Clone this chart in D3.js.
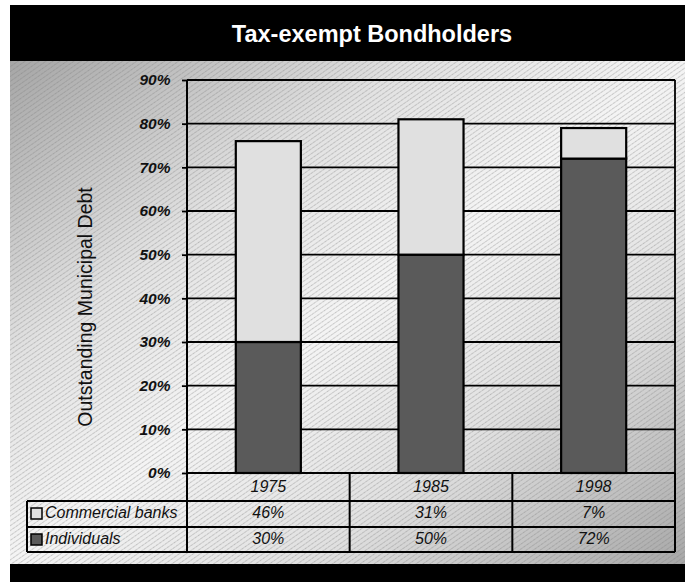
<!DOCTYPE html>
<html>
<head>
<meta charset="utf-8">
<script src="https://cdn.jsdelivr.net/npm/d3@7"></script>
<style>
  html, body { margin: 0; padding: 0; background: #ffffff; }
  svg { display: block; font-family: "Liberation Sans", Arial, sans-serif; }
</style>
</head>
<body>
<svg id="chart" width="685" height="582"></svg>
<script>
// Share of outstanding municipal debt held, by holder type
const years = ["1975", "1985", "1998"];
const commercialBanks = [46, 31, 7];
const individuals = [30, 50, 72];
const yTicks = [0, 10, 20, 30, 40, 50, 60, 70, 80, 90];
const seriesNames = ["Commercial banks", "Individuals"];
const seriesColors = ["#e0e0e0", "#5a5a5a"];

const svg = d3.select("#chart");
const defs = svg.append("defs");

// diagonal grey shading for the panel
const grad = defs.append("linearGradient")
  .attr("id", "panelShade")
  .attr("x1", 0).attr("y1", 0).attr("x2", 1).attr("y2", 1);
grad.append("stop").attr("offset", 0).attr("stop-color", "#a6a6a6");
grad.append("stop").attr("offset", 0.3).attr("stop-color", "#e2e2e2");
grad.append("stop").attr("offset", 0.5).attr("stop-color", "#f4f4f4");
grad.append("stop").attr("offset", 0.72).attr("stop-color", "#e0e0e0");
grad.append("stop").attr("offset", 1).attr("stop-color", "#a8a8a8");

// fine slanted hatch lines
const hatch = defs.append("pattern")
  .attr("id", "hatch")
  .attr("patternUnits", "userSpaceOnUse")
  .attr("width", 4).attr("height", 4)
  .attr("patternTransform", "rotate(55)");
hatch.append("line")
  .attr("x1", 0.5).attr("y1", 0).attr("x2", 0.5).attr("y2", 4)
  .attr("stroke", "#7a7a7a").attr("stroke-width", 0.8)
  .attr("stroke-dasharray", "1.5,0.8")
  .attr("stroke-opacity", 0.5);

// frame
const left = 10, right = 685;
svg.append("rect").attr("x", left).attr("y", 5).attr("width", right - left).attr("height", 56).attr("fill", "#000");
svg.append("rect").attr("x", left).attr("y", 61).attr("width", right - left).attr("height", 503).attr("fill", "url(#panelShade)");
svg.append("rect").attr("x", left).attr("y", 61).attr("width", right - left).attr("height", 503).attr("fill", "url(#hatch)");
svg.append("rect").attr("x", left).attr("y", 564).attr("width", right - left).attr("height", 18).attr("fill", "#000");

svg.append("text")
  .attr("x", 372).attr("y", 41.5)
  .attr("text-anchor", "middle")
  .attr("fill", "#fff")
  .attr("font-size", 23.5).attr("font-weight", "bold")
  .text("Tax-exempt Bondholders");

// scales
const plot = { x0: 187, x1: 675, y0: 80, y1: 473 };
const x = d3.scaleBand().domain(years).range([plot.x0, plot.x1]).paddingInner(0.6).paddingOuter(0.3);
const y = d3.scaleLinear().domain([0, 90]).range([plot.y1, plot.y0]);

// gridlines
svg.append("g").selectAll("line")
  .data(yTicks.filter(d => d > 0))
  .join("line")
  .attr("x1", plot.x0).attr("x2", plot.x1)
  .attr("y1", d => y(d)).attr("y2", d => y(d))
  .attr("stroke", "#000").attr("stroke-width", 1.8);

// right border of plot
svg.append("line")
  .attr("x1", plot.x1).attr("x2", plot.x1)
  .attr("y1", y(90)).attr("y2", y(0))
  .attr("stroke", "#000").attr("stroke-width", 1.8);

// y axis
const yAxis = svg.append("g")
  .attr("transform", `translate(${plot.x0},0)`)
  .call(d3.axisLeft(y).tickValues(yTicks).tickFormat(d => d + "%").tickSize(5).tickPadding(11.5));
yAxis.select(".domain").remove();
yAxis.selectAll(".tick line").attr("stroke", "#000").attr("stroke-width", 1.8);
yAxis.selectAll(".tick text")
  .attr("font-family", "'Liberation Sans', Arial, sans-serif")
  .attr("font-size", 15.5).attr("font-weight", "bold").attr("font-style", "italic")
  .attr("fill", "#111");

svg.append("text")
  .attr("transform", `translate(91.5, 307) rotate(-90)`)
  .attr("text-anchor", "middle")
  .attr("font-size", 19.5)
  .attr("fill", "#111")
  .text("Outstanding Municipal Debt");

// stacked bars
const rows = years.map((yr, i) => ({ year: yr, individuals: individuals[i], commercial: commercialBanks[i] }));
const stack = d3.stack().keys(["individuals", "commercial"])(rows);
const colorByKey = { individuals: seriesColors[1], commercial: seriesColors[0] };

svg.append("g").selectAll("g")
  .data(stack)
  .join("g")
  .attr("fill", d => colorByKey[d.key])
  .selectAll("rect")
  .data(d => d)
  .join("rect")
  .attr("x", d => x(d.data.year))
  .attr("width", x.bandwidth())
  .attr("y", d => y(d[1]))
  .attr("height", d => y(d[0]) - y(d[1]))
  .attr("stroke", "#000").attr("stroke-width", 2.2);

// data table
const tbl = { legendX: 27, yearTop: plot.y1, row1: 501, row2: 527, bottom: 552 };
const inner = years.slice(0, -1).map(yr => x(yr) + x.bandwidth() / 2 + x.step() / 2);
const tLines = svg.append("g").attr("stroke", "#000").attr("stroke-width", 2);
tLines.append("line").attr("x1", plot.x0).attr("x2", plot.x1).attr("y1", tbl.yearTop).attr("y2", tbl.yearTop);
[tbl.row1, tbl.row2, tbl.bottom].forEach(yy =>
  tLines.append("line").attr("x1", tbl.legendX).attr("x2", plot.x1).attr("y1", yy).attr("y2", yy));
tLines.append("line").attr("x1", tbl.legendX).attr("x2", tbl.legendX).attr("y1", tbl.row1).attr("y2", tbl.bottom);
// axis line runs down through the table; right border likewise
tLines.append("line").attr("x1", plot.x0).attr("x2", plot.x0).attr("y1", plot.y0).attr("y2", tbl.bottom);
tLines.append("line").attr("x1", plot.x1).attr("x2", plot.x1).attr("y1", tbl.yearTop).attr("y2", tbl.bottom);
inner.forEach(ex =>
  tLines.append("line").attr("x1", ex).attr("x2", ex).attr("y1", tbl.yearTop).attr("y2", tbl.bottom));

const cellText = (sel) => sel
  .attr("text-anchor", "middle")
  .attr("font-size", 16).attr("font-style", "italic")
  .attr("fill", "#111");

svg.append("g").selectAll("text").data(years).join("text")
  .attr("x", d => x(d) + x.bandwidth() / 2).attr("y", 492)
  .call(cellText).text(d => d);

const tableRows = [
  { name: seriesNames[0], color: seriesColors[0], values: commercialBanks, base: 518, top: tbl.row1 },
  { name: seriesNames[1], color: seriesColors[1], values: individuals, base: 544, top: tbl.row2 }
];
tableRows.forEach(r => {
  svg.append("g").selectAll("text").data(r.values).join("text")
    .attr("x", (d, i) => x(years[i]) + x.bandwidth() / 2).attr("y", r.base)
    .call(cellText).text(d => d + "%");
  svg.append("rect")
    .attr("x", 31).attr("y", r.top + 7).attr("width", 11).attr("height", 11)
    .attr("fill", r.color).attr("stroke", "#000").attr("stroke-width", 1.5);
  svg.append("text")
    .attr("x", 45).attr("y", r.base)
    .attr("font-size", 16).attr("font-style", "italic").attr("fill", "#111")
    .text(r.name);
});
</script>
</body>
</html>
